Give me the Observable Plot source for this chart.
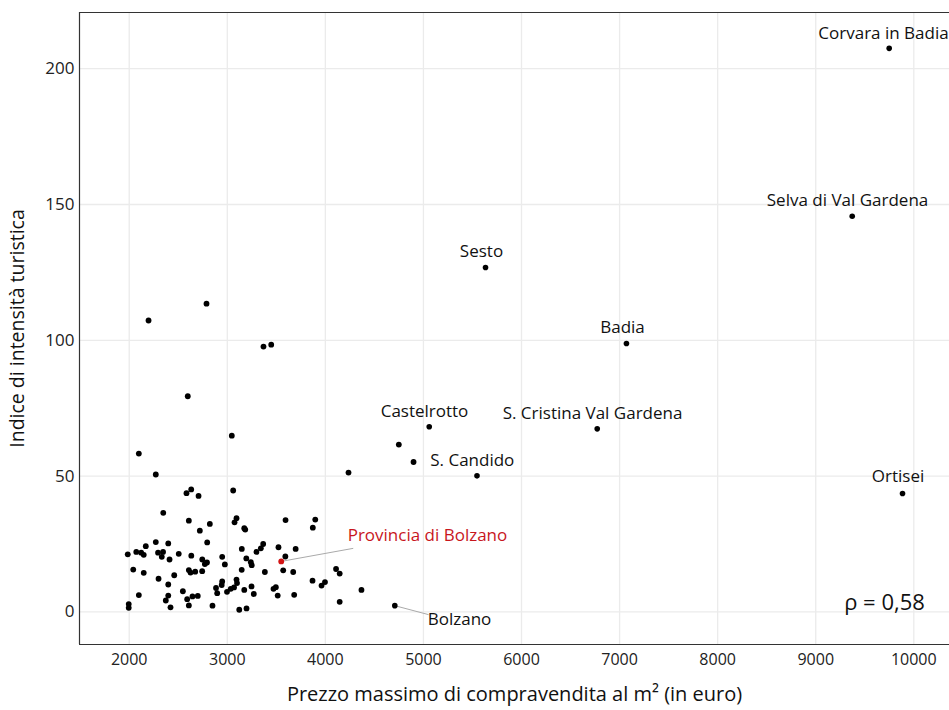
<!DOCTYPE html>
<html><head><meta charset="utf-8">
<script src="https://cdn.jsdelivr.net/npm/d3@7"></script>
<script src="https://cdn.jsdelivr.net/npm/@observablehq/plot@0.6"></script>
<style>
body{margin:0;background:#fff;font-family:"Open Sans",sans-serif}
#chart svg{display:block}
</style>
</head><body><div id="chart"></div>
<script>
// Unlabelled municipalities: max sale price per m² (euro) and tourist intensity index
const prezzo = [2197,2788,3369,3448,2597,2098,3046,2271,4236,4749,4899,
  2632,2584,2707,3060,2347,2608,2822,2720,3094,3074,3173,3183,3594,2795,2271,2398,2169,1985,2072,2122,2148,2294,2345,2332,
  2411,2505,2633,2745,2793,2771,2948,2975,3148,3194,3240,3249,3297,3342,3366,3522,3697,3592,2041,2148,2608,2625,2673,2744,
  2459,2299,2398,3147,3383,3570,3672,2948,2943,2885,2897,2997,3035,3069,3094,3099,3173,3247,3270,3471,3495,3514,3682,
  2098,2547,2398,2373,2591,2645,2699,2608,2421,1995,1995,2849,3122,3196,3897,3872,4109,4146,3869,3996,3961,4368,4146];
const indice = [107.3,113.5,97.7,98.4,79.4,58.3,64.9,50.6,51.3,61.6,55.2,
  45.1,43.7,42.7,44.7,36.5,33.6,32.4,29.9,34.5,33.0,30.8,30.3,33.8,25.6,25.7,25.2,24.2,21.2,22.1,21.8,21.0,21.8,22.1,20.3,
  19.3,21.4,20.7,19.3,18.2,17.6,20.3,17.5,23.2,19.7,18.3,17.2,22.1,23.4,25.0,23.8,23.2,20.4,15.6,14.4,15.4,14.5,14.8,15.0,
  13.5,12.2,10.1,15.5,14.7,15.3,14.7,11.2,9.9,8.8,6.9,7.4,8.5,9.0,11.9,10.6,8.1,9.4,6.6,8.5,9.1,6.0,6.3,
  6.2,7.6,6.0,4.2,4.7,5.7,5.9,2.4,1.7,2.9,1.5,2.3,0.8,1.3,34.0,31.0,15.8,14.1,11.5,11.0,9.7,8.1,3.7];

// Labelled municipalities
const nomi = ["Corvara in Badia","Selva di Val Gardena","Sesto","Badia","Castelrotto","S. Cristina Val Gardena","S. Candido","Ortisei","Bolzano"];
const nomiPrezzo = [9749,9372,5633,7070,5059,6772,5546,9885,4708];
const nomiIndice = [207.5,145.7,126.8,98.8,68.2,67.4,50.1,43.6,2.3];
// Label text positions (data units, as placed in the picture)
const etichettaPrezzo = [9691,9324,5592,7030,5011,6724,5498,9839,5368];
const etichettaIndice = [213.0,151.4,132.7,104.7,73.8,72.9,55.7,49.8,-2.8];

// Province
const provincia = "Provincia di Bolzano";
const provinciaPrezzo = 3550, provinciaIndice = 18.6;
const provinciaEtichetta = [5041, 28.1];

// Axis ticks and annotation
const xTicks = [2000,3000,4000,5000,6000,7000,8000,9000,10000];
const yTicks = [0,50,100,150,200];
const xTitle = "Prezzo massimo di compravendita al m² (in euro)";
const yTitle = "Indice di intensità turistica";
const rho = "ρ = 0,58";
const rhoPos = [9701, 3.4];

const punti = prezzo.map((p,i)=>({x:p, y:indice[i]}));
const etichettati = nomi.map((n,i)=>({nome:n, x:nomiPrezzo[i], y:nomiIndice[i], tx:etichettaPrezzo[i], ty:etichettaIndice[i]}));
const bolz = etichettati.find(d=>d.nome==="Bolzano");
const segmenti = [
  {x1:provinciaPrezzo, y1:provinciaIndice, x2:4284, y2:23.4},
  {x1:bolz.x, y1:bolz.y, x2:5052, y2:-1.0}
];

const xDom = [1493, 10364], yDom = [-12.0, 220.7];

const chart = Plot.plot({
  width: 949, height: 710,
  marginLeft: 79, marginRight: 0, marginTop: 12, marginBottom: 66,
  style: {fontFamily: "'Open Sans', sans-serif", background: "#fff"},
  x: {domain: xDom},
  y: {domain: yDom},
  marks: [
    Plot.gridX(xTicks, {stroke: "#ebebeb", strokeOpacity: 1, strokeWidth: 1.3}),
    Plot.gridY(yTicks, {stroke: "#ebebeb", strokeOpacity: 1, strokeWidth: 1.3}),
    Plot.axisX({ticks: xTicks, tickSize: 0, tickPadding: 9, tickFormat: d => String(d), fontSize: 16, label: null, fill: "#222"}),
    Plot.axisY({ticks: yTicks, tickSize: 0, tickPadding: 5, tickFormat: d => String(d), fontSize: 17, label: null, fill: "#222"}),
    Plot.ruleX([xDom[0]], {stroke: "#333", strokeWidth: 1.2}),
    Plot.ruleY([yDom[0], yDom[1]], {stroke: "#333", strokeWidth: 1.2}),
    Plot.link(segmenti, {x1:"x1", y1:"y1", x2:"x2", y2:"y2", stroke: "#aaa", strokeWidth: 1}),
    Plot.dot(punti, {x:"x", y:"y", r: 2.9, fill: "#000"}),
    Plot.dot(etichettati, {x:"x", y:"y", r: 2.8, fill: "#000"}),
    Plot.dot([{x:provinciaPrezzo, y:provinciaIndice}], {x:"x", y:"y", r: 2.9, fill: "#d41414"}),
    Plot.text(etichettati, {x:"tx", y:"ty", text:"nome", fontSize: 17, fill: "#111", textAnchor: "middle", lineAnchor: "middle"}),
    Plot.text([provincia], {x: () => provinciaEtichetta[0], y: () => provinciaEtichetta[1], text: d => d, fontSize: 17, fill: "#c8161d", textAnchor: "middle", lineAnchor: "middle"}),
    Plot.text([rho], {x: () => rhoPos[0], y: () => rhoPos[1], text: d => d, fontSize: 22, fill: "#111", textAnchor: "middle", lineAnchor: "middle"}),
    Plot.text([xTitle], {frameAnchor: "bottom", dy: 50, text: d => d, fontSize: 20, fill: "#111", textAnchor: "middle", lineAnchor: "middle"}),
    Plot.text([yTitle], {frameAnchor: "left", dx: -62, rotate: -90, text: d => d, fontSize: 19.5, fill: "#111", textAnchor: "middle", lineAnchor: "middle"})
  ]
});
document.getElementById("chart").appendChild(chart);
</script>
</body></html>
